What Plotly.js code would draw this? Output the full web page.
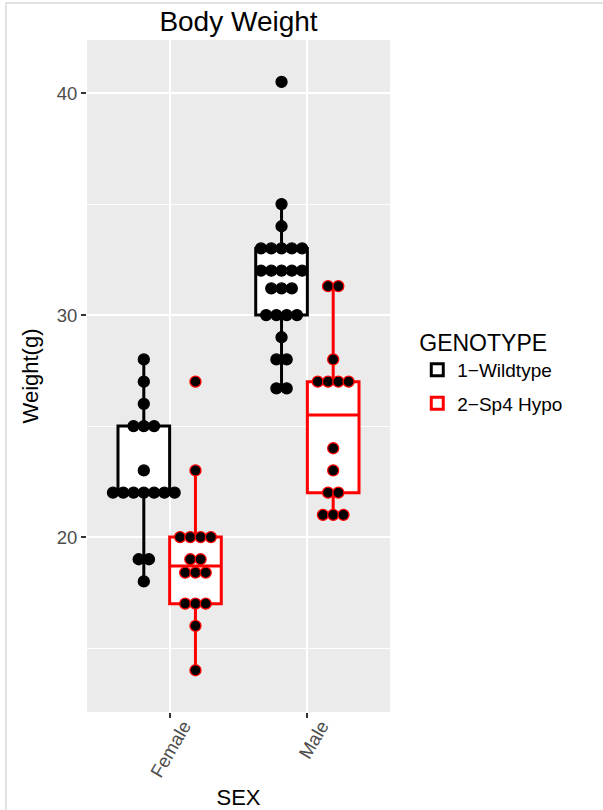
<!DOCTYPE html>
<html>
<head>
<meta charset="utf-8">
<script src="https://cdn.plot.ly/plotly-3.0.1.min.js"></script>
<style>
  html, body { margin: 0; padding: 0; background: #ffffff; overflow: hidden; }
  #wrap { position: relative; width: 603px; height: 810px; }
  #chart { position: absolute; left: 0; top: 0; width: 603px; height: 810px; }
  #frame { position: absolute; left: 5px; top: 2px; width: 700px; height: 900px;
           border: 2px solid #e3e3e3; pointer-events: none; }
</style>
</head>
<body>
<div id="wrap">
  <div id="chart"></div>
  <div id="frame"></div>
</div>
<script>
// ---- data ----
const categories = ['Female', 'Male'];
const categoryPositions = [1, 2];
const genotypes = ['1\u2212Wildtype', '2\u2212Sp4 Hypo'];

const wildtypeFemale = [28, 27, 26, 25, 25, 25, 23, 22, 22, 22, 22, 22, 22, 22, 19, 19, 18];
const wildtypeMale = [40.5, 35, 34, 33, 33, 33, 33, 33, 32, 32, 32, 32, 32, 31.2, 31.2, 31.2,
                      30, 30, 30, 30, 29, 28, 28, 26.7, 26.7];
const hypoFemale = [27, 23, 20, 20, 20, 20, 19, 19, 18.4, 18.4, 18.4, 17, 17, 17, 16, 14];
const hypoMale = [31.3, 31.3, 28, 27, 27, 27, 27, 24, 23, 22, 22, 21, 21, 21];

const yTickValues = [20, 30, 40];

// ---- styling ----
const lineColors = ['#000000', '#ff0000'];
const font = 'Liberation Sans, Arial, Helvetica, sans-serif';
const boxGap = 0.25;          // dodge width 0.75
const stackStep = 0.0746;     // horizontal dot spacing in x units

// ---- helpers ----
function quantile7(sorted, p) {
  const h = (sorted.length - 1) * p;
  const lo = Math.floor(h);
  const hi = Math.min(lo + 1, sorted.length - 1);
  return sorted[lo] + (h - lo) * (sorted[hi] - sorted[lo]);
}
function stats(values) {
  const s = values.slice().sort((a, b) => a - b);
  const q1 = quantile7(s, 0.25), med = quantile7(s, 0.5), q3 = quantile7(s, 0.75);
  const iqr = q3 - q1;
  const lf = Math.min(...s.filter(v => v >= q1 - 1.5 * iqr));
  const uf = Math.max(...s.filter(v => v <= q3 + 1.5 * iqr));
  return { q1, med, q3, lf, uf };
}
function dotPositions(values, center) {
  const counts = {};
  values.forEach(v => { counts[v] = (counts[v] || 0) + 1; });
  const xs = [], ys = [];
  Object.keys(counts).forEach(k => {
    const n = counts[k];
    for (let i = 0; i < n; i++) {
      xs.push(center + (i - (n - 1) / 2) * stackStep);
      ys.push(Number(k));
    }
  });
  return { xs, ys };
}

const groups = [
  [wildtypeFemale, wildtypeMale],
  [hypoFemale, hypoMale]
];

const traces = [];
const nGroups = groups.length;
const dodge = 1 - boxGap;

groups.forEach((grp, g) => {
  const st = grp.map(stats);
  traces.push({
    type: 'box',
    name: genotypes[g],
    legendgroup: 'g' + g,
    x: categoryPositions,
    q1: st.map(s => s.q1),
    median: st.map(s => s.med),
    q3: st.map(s => s.q3),
    lowerfence: st.map(s => s.lf),
    upperfence: st.map(s => s.uf),
    boxpoints: false,
    whiskerwidth: 0,
    fillcolor: '#ffffff',
    line: { color: lineColors[g], width: 3 },
    hoverinfo: 'skip'
  });
});

groups.forEach((grp, g) => {
  const offset = dodge * (-0.5 + (g + 0.5) / nGroups);
  const xs = [], ys = [];
  grp.forEach((vals, c) => {
    const d = dotPositions(vals, categoryPositions[c] + offset);
    xs.push(...d.xs); ys.push(...d.ys);
  });
  traces.push({
    type: 'scatter',
    mode: 'markers',
    x: xs, y: ys,
    legendgroup: 'g' + g,
    showlegend: false,
    marker: { color: '#000000', size: 11, line: { color: lineColors[g], width: 1.3 } },
    hoverinfo: 'skip'
  });
});

const layout = {
  width: 603, height: 810,
  margin: { l: 87, r: 213, t: 40, b: 98 },
  paper_bgcolor: '#ffffff',
  plot_bgcolor: '#ebebeb',
  font: { family: font, color: '#000000' },
  title: {
    text: 'Body Weight',
    font: { size: 28, color: '#000000', family: font },
    x: 0.5, xref: 'paper', xanchor: 'center',
    y: 0.974, yref: 'container', yanchor: 'middle'
  },
  boxmode: 'group',
  boxgap: boxGap,
  boxgroupgap: 0,
  xaxis: {
    range: [0.4, 2.6],
    tickmode: 'array',
    tickvals: categoryPositions,
    ticktext: categories,
    tickangle: -60,
    ticklabelshift: 14,
    ticklabelstandoff: -10,
    ticks: 'outside', ticklen: 5, tickwidth: 2, tickcolor: '#333333',
    tickfont: { size: 18.5, color: '#4d4d4d', family: font },
    showgrid: true, gridcolor: '#ffffff', gridwidth: 2.2,
    zeroline: false, showline: false,
    title: { text: 'SEX', font: { size: 22, color: '#000000', family: font }, standoff: 10 },
    automargin: false, fixedrange: true
  },
  yaxis: {
    range: [12.12, 42.39],
    tickmode: 'array',
    tickvals: yTickValues,
    ticks: 'outside', ticklen: 5, tickwidth: 2, tickcolor: '#333333',
    tickfont: { size: 18.5, color: '#4d4d4d', family: font },
    showgrid: true, gridcolor: '#ffffff', gridwidth: 2.2,
    minor: { dtick: 5, tick0: 0, showgrid: true, gridcolor: '#ffffff', gridwidth: 1.1, ticks: '' },
    zeroline: false, showline: false,
    title: { text: 'Weight(g)', font: { size: 22, color: '#000000', family: font }, standoff: 12 },
    automargin: false, fixedrange: true
  },
  showlegend: true,
  legend: {
    x: 1.09, xanchor: 'left', xref: 'paper',
    y: 0.582, yanchor: 'top', yref: 'paper',
    bgcolor: 'rgba(0,0,0,0)',
    traceorder: 'grouped',
    tracegroupgap: 6,
    font: { size: 19, color: '#000000', family: font },
    title: { text: 'GENOTYPE', font: { size: 23, color: '#000000', family: font } }
  }
};

Plotly.newPlot('chart', traces, layout, { displayModeBar: false, staticPlot: true });
</script>
</body>
</html>
